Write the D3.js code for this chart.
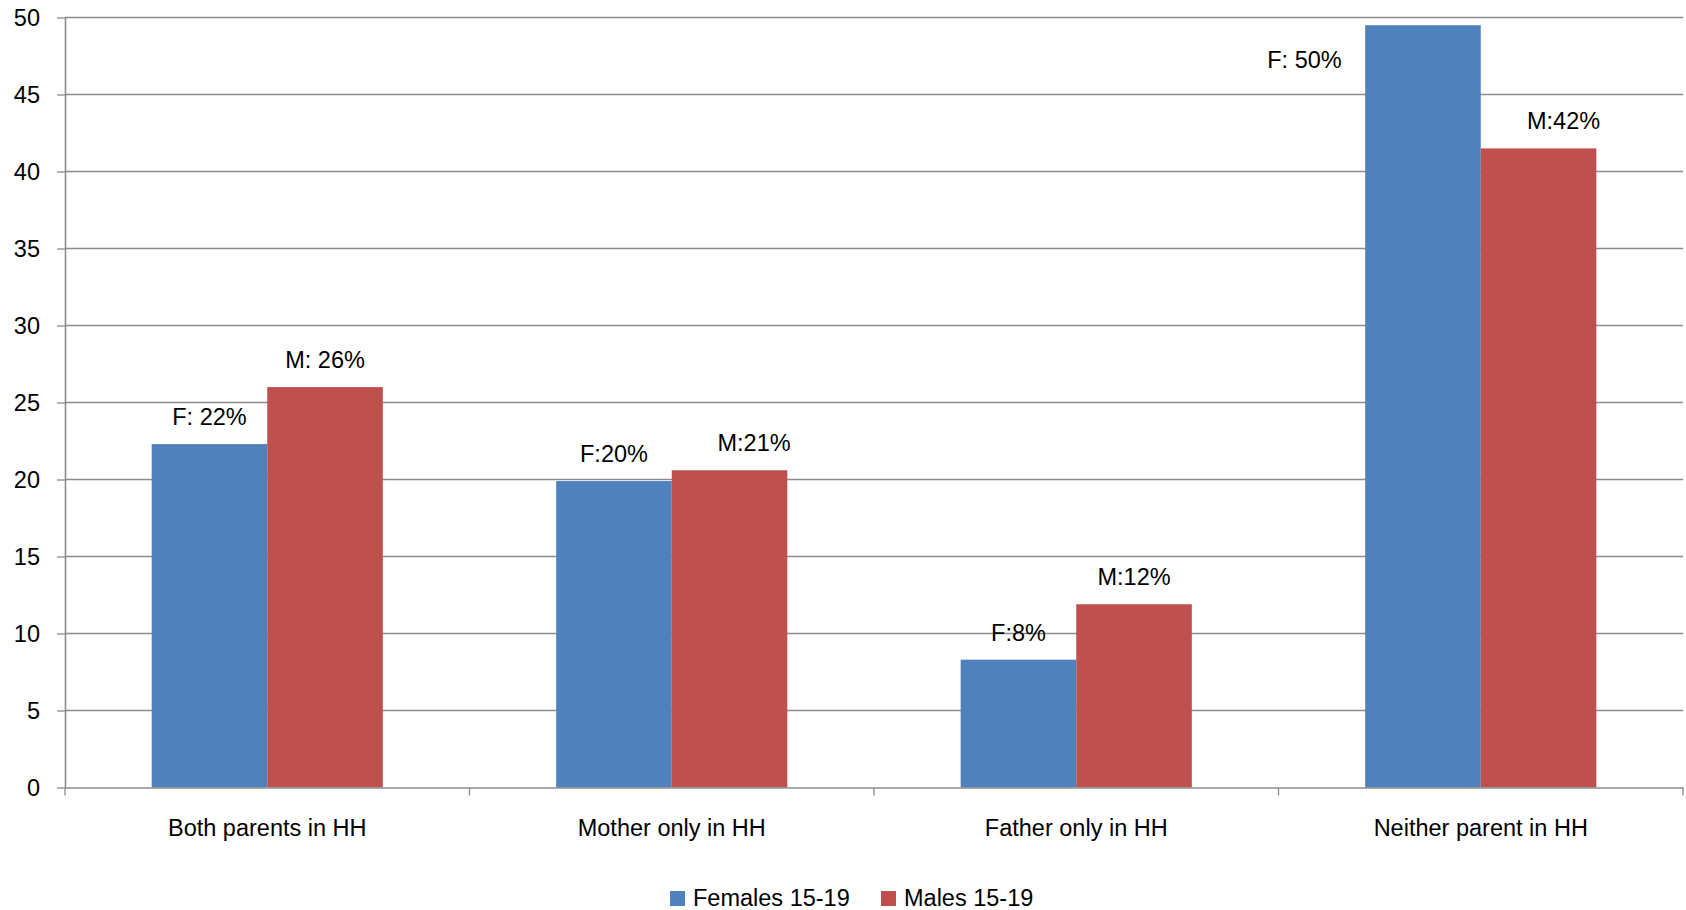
<!DOCTYPE html>
<html>
<head>
<meta charset="utf-8">
<script src="https://cdn.jsdelivr.net/npm/d3@7"></script>
<style>
  html, body { margin: 0; padding: 0; background: #fff; }
  svg { display: block; font-family: "Liberation Sans", Arial, sans-serif; }
</style>
</head>
<body>
<svg id="chart" width="1686" height="910"></svg>
<script>
const categories = ["Both parents in HH", "Mother only in HH", "Father only in HH", "Neither parent in HH"];
const seriesNames = ["Females 15-19", "Males 15-19"];
const females = [22.3, 19.9, 8.3, 49.5];
const males = [26.0, 20.6, 11.9, 41.5];
const femaleLabels = ["F: 22%", "F:20%", "F:8%", "F: 50%"];
const maleLabels = ["M: 26%", "M:21%", "M:12%", "M:42%"];
const yTicks = [0, 5, 10, 15, 20, 25, 30, 35, 40, 45, 50];
const colors = ["#4F81BD", "#C0504D"];

// manual label nudges (as in the original chart), px
const labelNudge = {
  "1-1": { dx: 24.5, dy: 0 },
  "1-3": { dx: 25, dy: 0 },
  "0-3": { dx: -118.5, dy: 61.7 }
};

const svg = d3.select("#chart");
const x0 = 65, x1 = 1683, yTop = 17.5, yBot = 787.5;

const x = d3.scaleBand().domain(categories).range([x0, x1]).paddingInner(0).paddingOuter(0);
const bw = x.bandwidth() / 3.5;
const xs = d3.scaleBand().domain(seriesNames).range([0.75 * bw, 2.75 * bw]).padding(0);
const y = d3.scaleLinear().domain([0, 50]).range([yBot, yTop]);

const gridColor = "#8c8c8c";
const fs = 23.5;

// gridlines
svg.append("g").selectAll("line").data(yTicks.filter(d => d > 0)).join("line")
  .attr("x1", x0).attr("x2", x1)
  .attr("y1", d => y(d)).attr("y2", d => y(d))
  .attr("stroke", gridColor).attr("stroke-width", 1.3);

// bars
const data = [];
categories.forEach((c, i) => {
  data.push({ c, s: seriesNames[0], v: females[i], label: femaleLabels[i], si: 0, ci: i });
  data.push({ c, s: seriesNames[1], v: males[i], label: maleLabels[i], si: 1, ci: i });
});

svg.append("g").selectAll("rect").data(data).join("rect")
  .attr("x", d => x(d.c) + xs(d.s))
  .attr("width", xs.bandwidth())
  .attr("y", d => y(d.v))
  .attr("height", d => y(0) - y(d.v))
  .attr("fill", d => colors[d.si]);

// value labels
svg.append("g").selectAll("text").data(data).join("text")
  .attr("x", d => {
    const n = labelNudge[d.si + "-" + d.ci];
    return x(d.c) + xs(d.s) + xs.bandwidth() / 2 + (n ? n.dx : 0);
  })
  .attr("y", d => {
    const n = labelNudge[d.si + "-" + d.ci];
    return y(d.v) - 19 + (n ? n.dy : 0);
  })
  .attr("text-anchor", "middle")
  .attr("font-size", fs)
  .attr("fill", "#000")
  .text(d => d.label);

// y axis
const yAxis = d3.axisLeft(y).tickValues(yTicks).tickSize(8).tickPadding(17).tickSizeOuter(0);
const gy = svg.append("g").attr("transform", `translate(${x0},0)`).call(yAxis);
gy.select(".domain").attr("stroke", gridColor).attr("stroke-width", 1.6);
gy.selectAll(".tick line").attr("stroke", gridColor).attr("stroke-width", 1.3);
gy.selectAll(".tick text").attr("font-size", fs).attr("fill", "#000")
  .attr("font-family", "Liberation Sans, Arial, sans-serif");

// x axis
const xAxis = d3.axisBottom(x).tickSize(0).tickPadding(32).tickSizeOuter(0);
const gx = svg.append("g").attr("transform", `translate(0,${yBot})`).call(xAxis);
gx.select(".domain").attr("stroke", gridColor).attr("stroke-width", 1.6);
gx.selectAll(".tick text").attr("font-size", fs).attr("fill", "#000")
  .attr("font-family", "Liberation Sans, Arial, sans-serif");

// category boundary ticks
const bounds = categories.map(c => x(c)).concat([x1]);
svg.append("g").selectAll("line").data(bounds).join("line")
  .attr("x1", d => d).attr("x2", d => d)
  .attr("y1", yBot).attr("y2", yBot + 8)
  .attr("stroke", gridColor).attr("stroke-width", 1.3);

// legend
const legend = svg.append("g");
const legX = [670, 881];
seriesNames.forEach((s, i) => {
  legend.append("rect").attr("x", legX[i]).attr("y", 891).attr("width", 15).attr("height", 15).attr("fill", colors[i]);
  legend.append("text").attr("x", legX[i] + 23).attr("y", 906).attr("font-size", fs).attr("fill", "#000").text(s);
});
</script>
</body>
</html>
